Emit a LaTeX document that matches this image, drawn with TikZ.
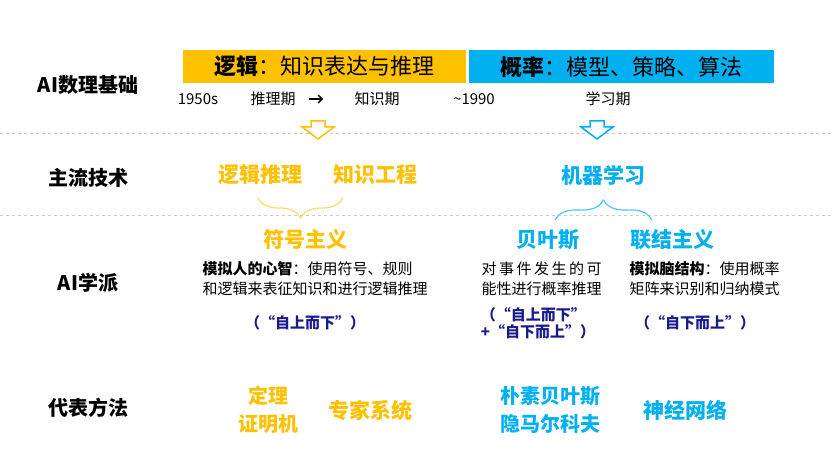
\documentclass[tikz,border=0pt]{standalone}
\usepackage{fontspec}
\setmainfont{Noto Sans CJK SC}
\usetikzlibrary{decorations.pathreplacing,arrows.meta}
\definecolor{aiorange}{HTML}{FFC000}
\definecolor{aiblue}{HTML}{00B0F0}
\definecolor{aidark}{HTML}{1A1A8C}
\begin{document}
\begin{tikzpicture}[x=1pt,y=-1pt,
  rowlabel/.style={font=\fontsize{20}{22}\selectfont\bfseries},
  bar/.style={minimum height=33pt,inner sep=0pt,font=\fontsize{22}{24}\selectfont},
  small/.style={font=\fontsize{15}{17}\selectfont},
  tech/.style={font=\fontsize{21}{24}\selectfont\bfseries},
  desc/.style={font=\fontsize{15}{20}\selectfont,align=left},
  dir/.style={font=\fontsize{15}{20}\selectfont\bfseries,text=aidark,align=left},
  sep/.style={gray!40,dashed,line width=0.8pt},
  hollow/.style={line width=1.5pt,fill=white}]
\useasboundingbox (0,0) rectangle (833,473);
\draw[sep] (0,133) -- (833,133);
\draw[sep] (0,215) -- (833,215);
\node[rowlabel] (l1) at (88,85) {AI数理基础};
\node[rowlabel] (l2) at (88,178) {主流技术};
\node[rowlabel] (l3) at (88,283) {AI学派};
\node[rowlabel] (l4) at (88,408) {代表方法};
\node[bar,fill=aiorange,minimum width=283pt,anchor=north west] (b1) at (183,50) {\textbf{逻辑}：知识表达与推理};
\node[bar,fill=aiblue,minimum width=305pt,anchor=north west] (b2) at (469,50) {\textbf{概率}：模型、策略、算法};
\node[small] (y1) at (198,99) {1950s};
\node[small] (p1) at (273,99) {推理期};
\node[small] (p2) at (377,99) {知识期};
\draw[-{Straight Barb[length=4pt]},line width=1.3pt] (p1.east)++(10,0) coordinate (ar) -- ++(14,0);
\node[small] (y2) at (474,99) {\textasciitilde1990};
\node[small] (p3) at (608,99) {学习期};
\draw[hollow,draw=aiorange] (311,121)--(325,121)--(325,127)--(334,127)--(318,139)--(302,127)--(311,127)--cycle;
\draw[hollow,draw=aiblue] (590,121)--(604,121)--(604,127)--(613,127)--(597,139)--(581,127)--(590,127)--cycle;
\node[tech,text=aiorange] (t1) at (260,175) {逻辑推理};
\node[tech,text=aiorange] (t2) at (375,175) {知识工程};
\node[tech,text=aiblue] (t3) at (603,175) {机器学习};
\draw[aiorange!60,line width=1.2pt,decorate,decoration={brace,amplitude=20pt}] (343,198) -- (258,198);
\draw[aiblue!70,line width=1.2pt,decorate,decoration={brace,amplitude=20pt}] (555,220) -- (652,220);
\node[tech,text=aiorange] (s1) at (305,240) {符号主义};
\node[tech,text=aiblue] (s2) at (548,240) {贝叶斯};
\node[tech,text=aiblue] (s3) at (672,240) {联结主义};
\node[desc,anchor=north west] (d1) at (199,258) {\textbf{模拟人的心智}：使用符号、规则\\和逻辑来表征知识和进行逻辑推理};
\node[desc,anchor=north west] (d2) at (478,258) {对\,事\,件\,发\,生\,的\,可\\能性进行概率推理};
\node[desc,anchor=north west] (d3) at (626,258) {\textbf{模拟脑结构}：使用概率\\矩阵来识别和归纳模式};
\node[dir] (r1) at (305,323) {（“自上而下”）};
\node[dir,align=left,font=\fontsize{15}{17}\selectfont\bfseries] (r2) at (538,323) {（“自上而下”\\+“自下而上”）};
\node[dir] (r3) at (695,323) {（“自下而上”）};
\node[tech,text=aiorange,align=center,font=\fontsize{20}{28}\selectfont\bfseries] (m1) at (268,410) {定理\\证明机};
\node[tech,text=aiorange] (m2) at (370,410) {专家系统};
\node[tech,text=aiblue,align=center,font=\fontsize{20}{28}\selectfont\bfseries] (m3) at (550,410) {朴素贝叶斯\\隐马尔科夫};
\node[tech,text=aiblue] (m4) at (685,410) {神经网络};
\end{tikzpicture}
\end{document}
